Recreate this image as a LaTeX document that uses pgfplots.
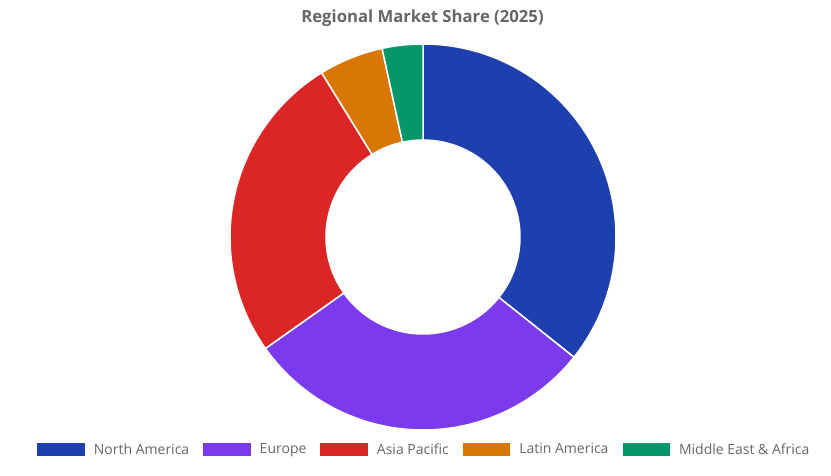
\documentclass[border=0pt]{standalone}
\usepackage{pgfplots}
\pgfplotsset{compat=1.18}
\usepackage{pgfplotstable}
\usepackage{fontspec}
\setmainfont{Open Sans}
\definecolor{cNA}{HTML}{1E40AF}
\definecolor{cEU}{HTML}{7C3AED}
\definecolor{cAP}{HTML}{DC2626}
\definecolor{cLA}{HTML}{D97706}
\definecolor{cME}{HTML}{059669}
\definecolor{txt}{HTML}{666666}
\colorlet{s0}{cNA}
\colorlet{s1}{cEU}
\colorlet{s2}{cAP}
\colorlet{s3}{cLA}
\colorlet{s4}{cME}

\pgfplotstableread{
region value
NA 35.7
EU 29.5
AP 26.0
LA 5.4
ME 3.4
}\shares

\def\cx{423}
\def\cy{238}
\def\Ro{193}
\def\Ri{97}

\begin{document}
\begin{tikzpicture}
\pgfmathsetmacro\cum{0}
\pgfplotsforeachungrouped \i in {0,...,4}{%
  \pgfplotstablegetelem{\i}{value}\of\shares
  \pgfmathsetmacro\a{90-3.6*\cum}%
  \pgfmathsetmacro\cum{\cum+\pgfplotsretval}%
  \pgfmathsetmacro\b{90-3.6*\cum}%
  \expandafter\xdef\csname sa\i\endcsname{\a}%
  \expandafter\xdef\csname ea\i\endcsname{\b}%
}
\begin{axis}[
  hide axis, scale only axis,
  x=1pt, y=1pt,
  xmin=0, xmax=831, ymin=0, ymax=475,
  clip=false,
  legend columns=5,
  legend image code/.code={\fill[#1] (0pt,-6.35pt) rectangle (47.5pt,6.35pt);},
  legend style={
    at={(axis cs:423.4,25.5)}, anchor=center, draw=none, fill=none,
    font=\fontsize{14}{16}\selectfont\color{txt},
    nodes={inner sep=0pt},
    /tikz/every odd column/.append style={column sep=9pt},
    /tikz/every even column/.append style={column sep=14pt},
  },
]
\path (0,0) rectangle (831,475);
\pgfplotsinvokeforeach{0,...,4}{
  \filldraw[fill=s#1, draw=white, line width=1.5pt, line join=round]
    ({\cx+\Ro*cos(\csname sa#1\endcsname)},{\cy+\Ro*sin(\csname sa#1\endcsname)})
    arc[start angle=\csname sa#1\endcsname, end angle=\csname ea#1\endcsname, radius=\Ro pt]
    -- ({\cx+\Ri*cos(\csname ea#1\endcsname)},{\cy+\Ri*sin(\csname ea#1\endcsname)})
    arc[start angle=\csname ea#1\endcsname, end angle=\csname sa#1\endcsname, radius=\Ri pt]
    -- cycle;
}
\node[font=\fontsize{16.7}{20}\selectfont\bfseries, text=txt] at (422.5,456.5) {Regional Market Share (2025)};
\addlegendimage{fill=cNA, draw=none}
\addlegendimage{fill=cEU, draw=none}
\addlegendimage{fill=cAP, draw=none}
\addlegendimage{fill=cLA, draw=none}
\addlegendimage{fill=cME, draw=none}
\legend{North America, Europe, Asia Pacific, Latin America, Middle East \& Africa}
\end{axis}
\end{tikzpicture}
\end{document}
